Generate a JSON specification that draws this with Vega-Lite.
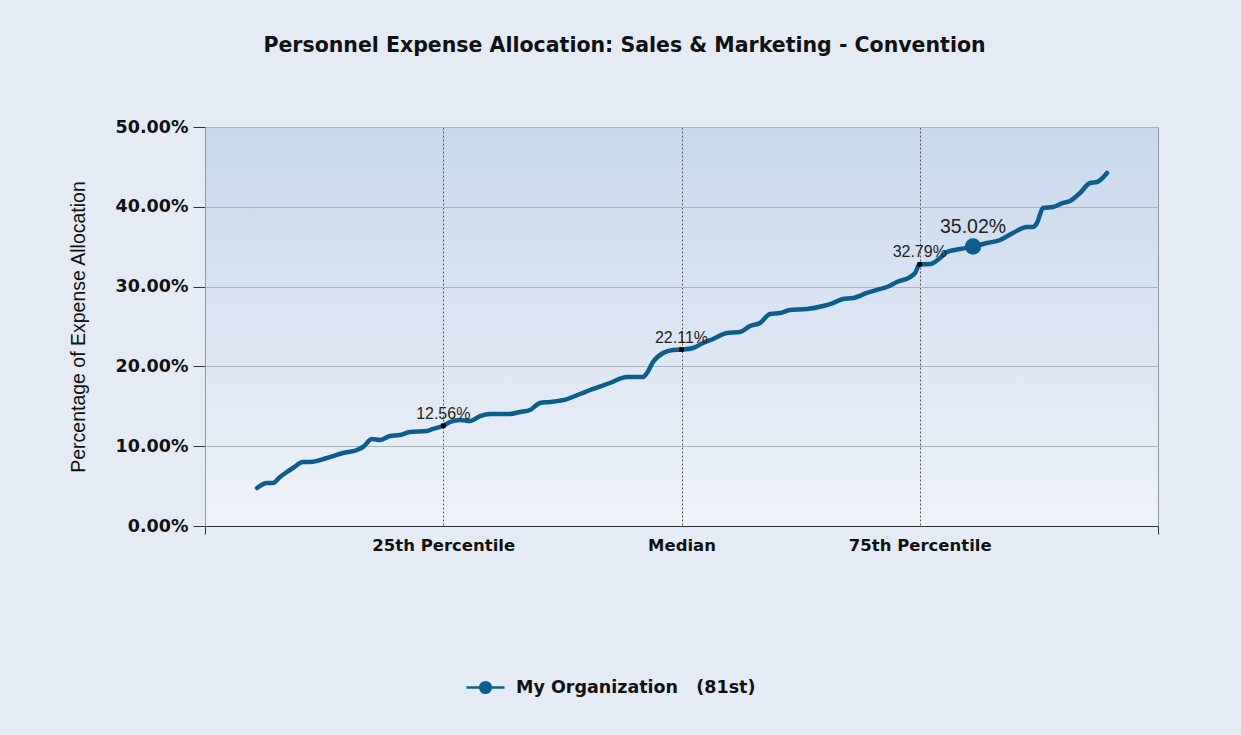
{
  "$schema": "https://vega.github.io/schema/vega-lite/v6.json",
  "autosize": {"type": "none"},
  "width": 953,
  "height": 399,
  "padding": {"left": 205, "top": 127, "right": 83, "bottom": 209},
  "background": "#e4ebf5",
  "title": {
    "text": "Personnel Expense Allocation: Sales & Marketing - Convention",
    "anchor": "middle",
    "dx": -57,
    "offset": 62,
    "font": "DejaVu Sans",
    "fontSize": 20.5,
    "fontWeight": "bold",
    "color": "#111111"
  },
  "config": {
    "view": {
      "fill": {"gradient": "linear", "x1": 0, "y1": 0, "x2": 0, "y2": 1,
        "stops": [{"offset": 0, "color": "#c9d8ed"}, {"offset": 1, "color": "#eef2f9"}]},
      "stroke": "#8f99a6"
    }
  },
  "datasets": {
    "curve": [
      {"p": 5.46, "v": 4.76}, {"p": 6.51, "v": 5.39}, {"p": 7.14, "v": 5.39}, {"p": 7.87, "v": 6.14},
      {"p": 8.6, "v": 6.77}, {"p": 9.23, "v": 7.27}, {"p": 10.28, "v": 8.02}, {"p": 11.02, "v": 8.02},
      {"p": 12.8, "v": 8.52}, {"p": 14.48, "v": 9.15}, {"p": 15.95, "v": 9.52}, {"p": 16.58, "v": 9.9},
      {"p": 17.52, "v": 10.9}, {"p": 18.36, "v": 10.78}, {"p": 19.41, "v": 11.28}, {"p": 20.46, "v": 11.4},
      {"p": 21.51, "v": 11.78}, {"p": 23.29, "v": 11.9}, {"p": 23.92, "v": 12.16}, {"p": 25.0, "v": 12.56},
      {"p": 25.71, "v": 13.03}, {"p": 26.76, "v": 13.28}, {"p": 27.81, "v": 13.16}, {"p": 28.86, "v": 13.78},
      {"p": 29.91, "v": 14.04}, {"p": 32.0, "v": 14.04}, {"p": 33.05, "v": 14.29}, {"p": 34.1, "v": 14.54},
      {"p": 35.15, "v": 15.41}, {"p": 36.2, "v": 15.54}, {"p": 37.99, "v": 15.91}, {"p": 39.35, "v": 16.54},
      {"p": 40.71, "v": 17.17}, {"p": 42.5, "v": 17.92}, {"p": 44.28, "v": 18.67}, {"p": 45.96, "v": 18.67},
      {"p": 46.38, "v": 19.17}, {"p": 47.01, "v": 20.55}, {"p": 48.06, "v": 21.68}, {"p": 49.11, "v": 22.06},
      {"p": 50.0, "v": 22.11}, {"p": 51.21, "v": 22.31}, {"p": 52.26, "v": 22.93}, {"p": 53.31, "v": 23.43},
      {"p": 54.77, "v": 24.19}, {"p": 56.14, "v": 24.31}, {"p": 57.19, "v": 25.06}, {"p": 58.24, "v": 25.44},
      {"p": 59.29, "v": 26.57}, {"p": 60.34, "v": 26.69}, {"p": 61.38, "v": 27.07}, {"p": 63.17, "v": 27.19},
      {"p": 64.85, "v": 27.57}, {"p": 65.9, "v": 27.94}, {"p": 66.95, "v": 28.45}, {"p": 68.0, "v": 28.57},
      {"p": 69.46, "v": 29.2}, {"p": 70.83, "v": 29.7}, {"p": 71.56, "v": 29.95}, {"p": 72.61, "v": 30.58},
      {"p": 73.98, "v": 31.2}, {"p": 74.5, "v": 31.7}, {"p": 75.0, "v": 32.79}, {"p": 76.08, "v": 32.83},
      {"p": 77.12, "v": 33.58}, {"p": 77.86, "v": 34.34}, {"p": 79.22, "v": 34.71}, {"p": 80.59, "v": 35.02},
      {"p": 82.06, "v": 35.46}, {"p": 83.42, "v": 35.84}, {"p": 84.78, "v": 36.72}, {"p": 86.25, "v": 37.47},
      {"p": 86.88, "v": 37.47}, {"p": 87.3, "v": 37.97}, {"p": 87.93, "v": 39.85}, {"p": 88.98, "v": 39.97},
      {"p": 90.03, "v": 40.48}, {"p": 90.77, "v": 40.73}, {"p": 91.82, "v": 41.73}, {"p": 92.86, "v": 42.98},
      {"p": 93.6, "v": 43.11}, {"p": 94.65, "v": 44.24}
    ],
    "marks": [
      {"p": 25, "v": 12.56, "label": "12.56%"},
      {"p": 50, "v": 22.11, "label": "22.11%"},
      {"p": 75, "v": 32.79, "label": "32.79%"}
    ],
    "org": [
      {"p": 80.59, "v": 35.02, "label": "35.02%"}
    ]
  },
  "encoding": {
    "x": {
      "field": "p", "type": "quantitative",
      "scale": {"domain": [0, 100], "nice": false},
      "axis": {
        "title": null,
        "values": [0, 25, 50, 75, 100],
        "labelExpr": "datum.value == 25 ? '25th Percentile' : datum.value == 50 ? 'Median' : datum.value == 75 ? '75th Percentile' : ''",
        "labelFont": "DejaVu Sans", "labelFontSize": 16.5, "labelFontWeight": "bold", "labelColor": "#111111",
        "labelPadding": 3,
        "tickColor": {"expr": "datum.value == 0 || datum.value == 100 ? '#333333' : 'transparent'"},
        "tickSize": 8,
        "domainColor": "#333333",
        "grid": true,
        "gridColor": {"expr": "datum.value == 0 || datum.value == 100 ? 'transparent' : '#555555'"},
        "gridDash": [2, 2],
        "gridWidth": 1
      }
    },
    "y": {
      "field": "v", "type": "quantitative",
      "scale": {"domain": [0, 50], "nice": false},
      "axis": {
        "title": "Percentage of Expense Allocation",
        "titleFont": "Liberation Sans", "titleFontSize": 19.5, "titleFontWeight": "normal", "titleColor": "#111111",
        "titlePadding": 27,
        "values": [0, 10, 20, 30, 40, 50],
        "labelExpr": "format(datum.value, '.2f') + '%'",
        "labelFont": "DejaVu Sans", "labelFontSize": 17.5, "labelFontWeight": "bold", "labelColor": "#111111",
        "labelPadding": 5,
        "tickSize": 12, "tickColor": "#333333",
        "domainColor": "#8f99a6",
        "grid": true, "gridColor": "#aab3bf", "gridWidth": 1
      }
    }
  },
  "layer": [
    {
      "data": {"name": "curve"},
      "transform": [{"calculate": "'My Organization\u00a0\u00a0\u00a0(81st)'", "as": "s"}],
      "mark": {"type": "line", "interpolate": "monotone", "strokeWidth": 4.5, "strokeCap": "round"},
      "encoding": {
        "color": {
          "field": "s", "type": "nominal",
          "scale": {"range": ["#0d5e8c"]},
          "legend": {
            "title": null, "orient": "none", "legendX": 260, "legendY": 540,
            "symbolType": "M-1,0H1M0.28,0A0.28,0.28 0 1 1 -0.28,0A0.28,0.28 0 1 1 0.28,0",
            "symbolSize": 1444, "symbolStrokeWidth": 2.5, "symbolFillColor": "#0d5e8c", "symbolStrokeColor": "#0d5e8c",
            "labelFont": "DejaVu Sans", "labelFontSize": 17.5, "labelFontWeight": "bold", "labelColor": "#111111",
            "labelOffset": 10, "labelLimit": 0
          }
        }
      }
    },
    {
      "data": {"name": "marks"},
      "mark": {"type": "square", "size": 22, "color": "#000000", "opacity": 1},
      "encoding": {}
    },
    {
      "data": {"name": "marks"},
      "mark": {"type": "text", "dy": -12, "font": "Liberation Sans", "fontSize": 16, "color": "#222222"},
      "encoding": {"text": {"field": "label"}}
    },
    {
      "data": {"name": "org"},
      "mark": {"type": "circle", "size": 270, "color": "#0d5e8c", "opacity": 1},
      "encoding": {}
    },
    {
      "data": {"name": "org"},
      "mark": {"type": "text", "dy": -20, "font": "Liberation Sans", "fontSize": 19.5, "color": "#222222"},
      "encoding": {"text": {"field": "label"}}
    }
  ]
}
